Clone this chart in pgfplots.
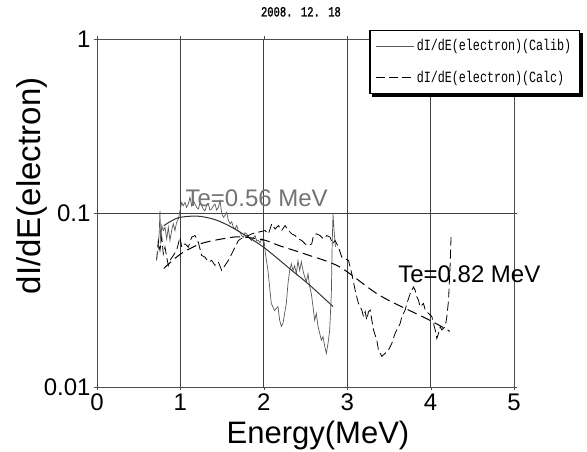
\documentclass[border=0pt]{standalone}
\usepackage{pgfplots}
\pgfplotsset{compat=1.18}
\usepackage{fontspec}
\setmainfont{Liberation Sans}
\newfontfamily\jfont[FakeStretch=0.75]{Liberation Mono}
\newfontfamily\jtitle[FakeStretch=0.75,FakeBold=1.2]{Liberation Mono}

% dI/dE (Calib), noisy
\pgfplotstableread{
x y
0.735 0.061
0.747 0.0793
0.755 0.103
0.764 0.0665
0.776 0.0847
0.795 0.0793
0.815 0.0828
0.836 0.071
0.855 0.0828
0.875 0.0695
0.895 0.0793
0.915 0.0866
0.935 0.0793
0.955 0.0885
0.975 0.0924
0.995 0.103
1.016 0.115
1.035 0.110
1.055 0.115
1.075 0.1077
1.095 0.1126
1.115 0.123
1.135 0.110
1.155 0.118
1.175 0.1126
1.195 0.108
1.215 0.1054
1.235 0.114
1.255 0.110
1.275 0.105
1.295 0.103
1.315 0.111
1.335 0.1126
1.355 0.104
1.375 0.1054
1.395 0.110
1.415 0.1126
1.435 0.104
1.455 0.1077
1.475 0.1175
1.495 0.100
1.515 0.0945
1.535 0.097
1.555 0.101
1.575 0.091
1.595 0.0866
1.615 0.089
1.635 0.0828
1.655 0.081
1.675 0.0847
1.695 0.079
1.715 0.0776
1.735 0.074
1.755 0.0726
1.775 0.077
1.795 0.0759
1.815 0.073
1.835 0.071
1.855 0.0695
1.875 0.072
1.895 0.0742
1.915 0.069
1.935 0.0695
1.955 0.0675
1.975 0.071
2.005 0.0679
2.02 0.0584
2.05 0.0467
2.09 0.0302
2.13 0.0275
2.17 0.029
2.19 0.0242
2.21 0.0223
2.23 0.0232
2.25 0.0265
2.27 0.0302
2.29 0.0393
2.31 0.0467
2.33 0.0511
2.35 0.0467
2.37 0.0498
2.39 0.0448
2.41 0.0532
2.43 0.0467
2.45 0.0525
2.47 0.0467
2.49 0.043
2.51 0.0403
2.53 0.0448
2.55 0.0378
2.57 0.0344
2.59 0.029
2.61 0.0242
2.63 0.0265
2.65 0.0223
2.67 0.0204
2.69 0.0186
2.71 0.0195
2.73 0.0172
2.75 0.0156
2.77 0.0178
2.79 0.0212
2.81 0.0344
2.82 0.0665
2.83 0.0987
2.845 0.0759
2.86 0.064
}\calib

% dI/dE (Calc), noisy
\pgfplotstableread{
x y
0.715 0.0534
0.735 0.0695
0.755 0.061
0.776 0.0726
0.795 0.0583
0.815 0.0637
0.836 0.0558
0.855 0.050
0.875 0.0534
0.915 0.057
0.955 0.061
0.995 0.0726
1.016 0.0637
1.055 0.0665
1.095 0.0637
1.135 0.0726
1.175 0.0742
1.215 0.0679
1.255 0.057
1.295 0.0558
1.335 0.0523
1.375 0.0534
1.415 0.050
1.455 0.0523
1.495 0.0468
1.535 0.050
1.575 0.0534
1.615 0.0583
1.655 0.0637
1.695 0.0695
1.755 0.0726
1.815 0.0742
1.855 0.0759
1.935 0.0776
2.015 0.0793
2.055 0.0759
2.095 0.0866
2.135 0.081
2.175 0.0847
2.215 0.0793
2.255 0.0847
2.295 0.0793
2.335 0.0759
2.375 0.0742
2.415 0.071
2.455 0.0695
2.495 0.0665
2.535 0.065
2.575 0.0665
2.595 0.0742
2.635 0.0759
2.675 0.0742
2.715 0.071
2.755 0.0742
2.795 0.0726
2.825 0.0665
2.855 0.0695
2.895 0.0637
2.935 0.0558
3.015 0.0534
3.055 0.0448
3.095 0.036
3.135 0.0302
3.175 0.0277
3.195 0.0254
3.215 0.0271
3.235 0.0243
3.255 0.0271
3.275 0.0277
3.295 0.0243
3.315 0.0213
3.355 0.0186
3.375 0.0163
3.415 0.015
3.455 0.0156
3.495 0.0163
3.535 0.0178
3.575 0.0204
3.615 0.0222
3.635 0.0232
3.655 0.0254
3.695 0.0277
3.715 0.0302
3.755 0.0344
3.795 0.0376
3.815 0.036
3.835 0.033
3.855 0.0315
3.875 0.0289
3.915 0.0302
3.935 0.0277
3.975 0.0265
4.015 0.0254
4.035 0.0232
4.055 0.0213
4.075 0.019
4.095 0.0204
4.115 0.0222
4.135 0.0213
4.175 0.0222
4.195 0.0254
4.215 0.0315
4.235 0.0511
4.245 0.0726
}\calc

% fitted curves
\pgfplotstableread{
x y
0.80 0.0845
0.90 0.0905
1.00 0.0945
1.20 0.0960
1.39 0.0924
1.55 0.0860
1.71 0.0779
1.99 0.0640
2.31 0.0479
2.55 0.0385
2.83 0.0290
}\fitA

\pgfplotstableread{
x y
0.80 0.048
1.00 0.058
1.24 0.0665
1.50 0.0710
1.71 0.0730
2.00 0.0700
2.19 0.0648
2.50 0.0580
2.91 0.0490
3.39 0.0336
3.99 0.0242
4.23 0.0209
}\fitB

\begin{document}
\begin{tikzpicture}
\begin{axis}[
    at={(0pt,0pt)}, anchor=south west,
    width=417pt, height=348pt, scale only axis,
    xmin=0, xmax=5, ymin=0.01, ymax=1, ymode=log,
    xtick={0,1,2,3,4,5},
    ytick={0.01,0.1,1}, yticklabels={0.01,0.1,1},
    yminorticks=false,
    /pgf/number format/assume math mode=true,
    grid=major,
    major grid style={draw=black!75, line width=0.8pt},
    axis line style={draw=black!70, line width=0.8pt},
    tick style={draw=black!70},
    tick align=outside, major tick length=3pt,
    ticklabel style={font=\fontsize{24}{24}\selectfont},
    xlabel={Energy(MeV)}, ylabel={dI/dE(electron)},
    xlabel style={at={(axis description cs:0.53,-0.161)}, anchor=base,
                  font=\fontsize{31}{31}\selectfont},
    ylabel style={at={(axis description cs:-0.155,0.578)}, anchor=center,
                  font=\fontsize{33}{33}\selectfont},
    clip mode=individual,
    legend style={at={(1.158,1.026)}, anchor=north east, name=leg,
        font=\jfont\fontsize{15.6}{15.6}\selectfont,
        draw=black, line width=1.2pt, fill=white,
        inner xsep=6pt, inner ysep=7pt, row sep=15pt,
        /tikz/every even column/.append style={column sep=5pt}},
    legend cell align=left,
    legend image code/.code={\draw[#1] (0pt,0pt) -- (38pt,0pt);},
]
\addplot[draw=black!65, line width=0.7pt] table {\calib};
\addlegendentry{dI/dE(electron)(Calib)}
\addplot[draw=black, line width=0.8pt, dash pattern=on 9pt off 4pt] table {\calc};
\addlegendentry{dI/dE(electron)(Calc)}

\addplot[forget plot, draw=black!80, line width=1pt, smooth] table {\fitA};
\addplot[forget plot, draw=black, line width=1pt, smooth, dash pattern=on 10pt off 5pt] table {\fitB};

\node[anchor=west, text=black!55, font=\fontsize{24}{24}\selectfont, inner sep=0pt]
    at (axis cs:1.06,0.122) {Te=0.56 MeV};
\node[anchor=west, text=black, font=\fontsize{24}{24}\selectfont, inner sep=0pt]
    at (axis cs:3.61,0.0447) {Te=0.82 MeV};
\node[font=\jtitle\fontsize{14}{14}\selectfont]
    at (axis description cs:0.489,1.078) {2008. 12. 18};
\end{axis}
% legend shadow
\fill[black] ([xshift=3pt,yshift=-3pt]leg.south west) rectangle ([xshift=3pt]leg.south east);
\fill[black] ([yshift=-3pt]leg.south east) rectangle ([xshift=3pt,yshift=-3pt]leg.north east);
\pgfresetboundingbox
\useasboundingbox (-97pt,-65pt) rectangle (490pt,387pt);
\end{tikzpicture}
\end{document}
